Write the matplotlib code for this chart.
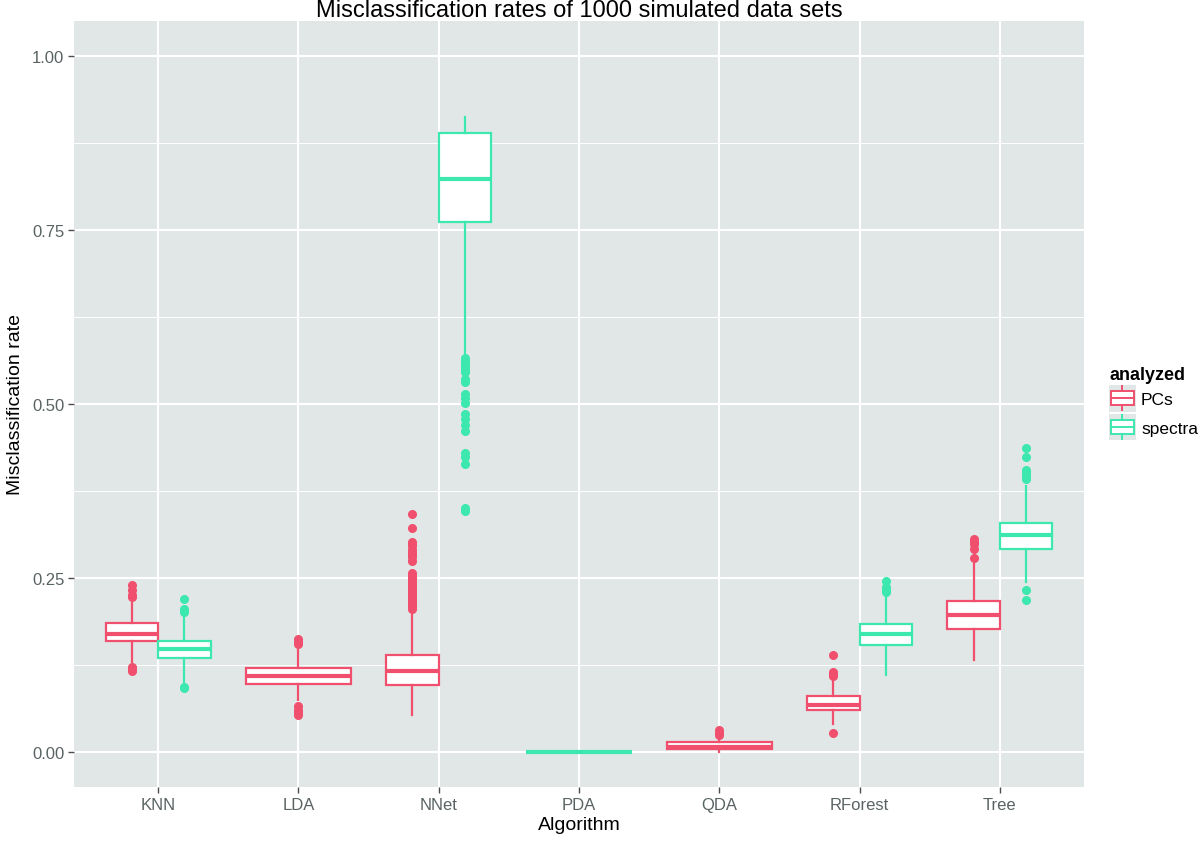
import numpy as np
import matplotlib
matplotlib.use("Agg")
import matplotlib.pyplot as plt
from matplotlib.legend_handler import HandlerBase
from matplotlib.patches import Rectangle
from matplotlib.lines import Line2D

plt.rcParams['font.family'] = ['Liberation Sans', 'DejaVu Sans']

# ── Data ─────────────────────────────────────────────────────────
algorithms = ["KNN", "LDA", "NNet", "PDA", "QDA", "RForest", "Tree"]

pcs_alg    = ["KNN", "LDA", "NNet", "QDA", "RForest", "Tree"]
pcs_whislo = [0.130, 0.075, 0.053, 0.000, 0.040, 0.132]
pcs_q1     = [0.159, 0.098, 0.097, 0.004, 0.060, 0.177]
pcs_med    = [0.170, 0.110, 0.117, 0.008, 0.068, 0.197]
pcs_q3     = [0.185, 0.121, 0.139, 0.014, 0.080, 0.217]
pcs_whishi = [0.215, 0.148, 0.200, 0.020, 0.105, 0.274]
pcs_fliers = [
    [0.240, 0.233, 0.226, 0.223, 0.122, 0.119, 0.117],
    [0.162, 0.158, 0.155, 0.066, 0.060, 0.057, 0.054],
    [0.206, 0.210, 0.213, 0.216, 0.219, 0.222, 0.225, 0.228, 0.232, 0.235,
     0.238, 0.242, 0.245, 0.248, 0.251, 0.255, 0.258, 0.274, 0.280, 0.284,
     0.286, 0.290, 0.296, 0.299, 0.302, 0.322, 0.342],
    [0.032, 0.027, 0.025],
    [0.139, 0.115, 0.112, 0.109, 0.028],
    [0.306, 0.302, 0.299, 0.292, 0.279],
]

spec_alg    = ["KNN", "NNet", "PDA", "RForest", "Tree"]
spec_whislo = [0.098, 0.571, 0.000, 0.111, 0.244]
spec_q1     = [0.135, 0.762, 0.000, 0.154, 0.292]
spec_med    = [0.148, 0.823, 0.000, 0.170, 0.312]
spec_q3     = [0.160, 0.889, 0.000, 0.184, 0.329]
spec_whishi = [0.198, 0.912, 0.000, 0.224, 0.382]
spec_fliers = [
    [0.220, 0.206, 0.203, 0.201, 0.094, 0.092],
    [0.566, 0.562, 0.559, 0.555, 0.552, 0.548, 0.546, 0.536, 0.532, 0.514,
     0.509, 0.502, 0.485, 0.479, 0.470, 0.461, 0.430, 0.424, 0.414, 0.350,
     0.346],
    [],
    [0.246, 0.237, 0.233, 0.230],
    [0.437, 0.424, 0.405, 0.402, 0.398, 0.395, 0.392, 0.233, 0.218],
]

COL_PCS = "#F0506E"
COL_SPEC = "#3DE8AE"
PANEL_BG = "#E1E7E7"

# ── Figure ───────────────────────────────────────────────────────
fig = plt.figure(figsize=(12, 8.45), dpi=100)
ax = fig.add_axes([74 / 1200, 1 - 788 / 845, 1010 / 1200, 766 / 845])
ax.set_facecolor(PANEL_BG)
for sp in ax.spines.values():
    sp.set_visible(False)

xpos = {a: i + 1 for i, a in enumerate(algorithms)}
both = set(pcs_alg) & set(spec_alg)


def draw_group(alg, whislo, q1, med, q3, whishi, fliers, color, side):
    stats, pos, wid = [], [], []
    for i, a in enumerate(alg):
        stats.append(dict(whislo=whislo[i], q1=q1[i], med=med[i], q3=q3[i],
                          whishi=whishi[i], fliers=fliers[i]))
        if a in both:
            pos.append(xpos[a] + side * 0.1875)
            wid.append(0.375)
        else:
            pos.append(xpos[a])
            wid.append(0.75)
    ax.bxp(stats, positions=pos, widths=wid, patch_artist=True,
           showcaps=False, manage_ticks=False,
           boxprops=dict(facecolor='white', edgecolor=color, linewidth=1.6),
           medianprops=dict(color=color, linewidth=3.0, solid_capstyle='butt'),
           whiskerprops=dict(color=color, linewidth=1.6),
           flierprops=dict(marker='o', markerfacecolor=color,
                           markeredgecolor=color, markersize=5.5))


draw_group(pcs_alg, pcs_whislo, pcs_q1, pcs_med, pcs_q3, pcs_whishi,
           pcs_fliers, COL_PCS, -1)
draw_group(spec_alg, spec_whislo, spec_q1, spec_med, spec_q3, spec_whishi,
           spec_fliers, COL_SPEC, +1)

# axes, grid
ax.set_xlim(0.4, len(algorithms) + 0.6)
ax.set_ylim(-0.05, 1.05)
ax.set_xticks(range(1, len(algorithms) + 1))
ax.set_xticklabels(algorithms)
ax.set_yticks([0.0, 0.25, 0.5, 0.75, 1.0])
ax.set_yticklabels(["0.00", "0.25", "0.50", "0.75", "1.00"])
ax.set_yticks([0.125, 0.375, 0.625, 0.875], minor=True)
ax.set_axisbelow(True)
ax.grid(True, which='major', color='white', linewidth=1.5)
ax.grid(True, which='minor', axis='y', color='white', linewidth=0.7)
ax.tick_params(which='major', length=4, width=1, color='#4D4D4D',
               labelcolor='#5A6363', labelsize=12, pad=3)
ax.tick_params(which='minor', length=0)

ax.set_xlabel("Algorithm", fontsize=14, color='black', labelpad=3)
ax.set_ylabel("Misclassification rate", fontsize=14, color='black', labelpad=6)
ax.set_title("Misclassification rates of 1000 simulated data sets",
             fontsize=17, color='black', pad=0.5)


# legend with small boxplot keys
class BoxKey(HandlerBase):
    def create_artists(self, legend, orig_handle, xdescent, ydescent,
                       width, height, fontsize, trans):
        c = orig_handle.get_edgecolor()
        x0, y0 = -xdescent, -ydescent
        bg = Rectangle((x0, y0), width, height, facecolor=PANEL_BG,
                       edgecolor='none', transform=trans)
        box = Rectangle((x0 + width * 0.08, y0 + height * 0.25), width * 0.84,
                        height * 0.5, facecolor='white', edgecolor=c,
                        linewidth=1.4, transform=trans)
        med = Line2D([x0 + width * 0.08, x0 + width * 0.92],
                     [y0 + height * 0.5] * 2, color=c, linewidth=1.4,
                     transform=trans)
        wt = Line2D([x0 + width * 0.5] * 2,
                    [y0 + height * 0.75, y0 + height * 0.95], color=c,
                    linewidth=1.4, transform=trans)
        wb = Line2D([x0 + width * 0.5] * 2,
                    [y0 + height * 0.05, y0 + height * 0.25], color=c,
                    linewidth=1.4, transform=trans)
        return [bg, box, med, wt, wb]


h_pcs = Rectangle((0, 0), 1, 1, edgecolor=COL_PCS)
h_spec = Rectangle((0, 0), 1, 1, edgecolor=COL_SPEC)
leg = fig.legend([h_pcs, h_spec], ["PCs", "spectra"],
                 handler_map={Rectangle: BoxKey()},
                 loc='center left', bbox_to_anchor=(1109 / 1200, 1 - 404 / 845),
                 frameon=False, fontsize=12.5, title="analyzed",
                 title_fontproperties=dict(weight='bold', size=13),
                 handlelength=1.55, handleheight=2.0, handletextpad=0.3,
                 labelspacing=0.12, borderaxespad=0, borderpad=0)
leg._legend_box.align = "left"

plt.savefig("out.png", dpi=100)
